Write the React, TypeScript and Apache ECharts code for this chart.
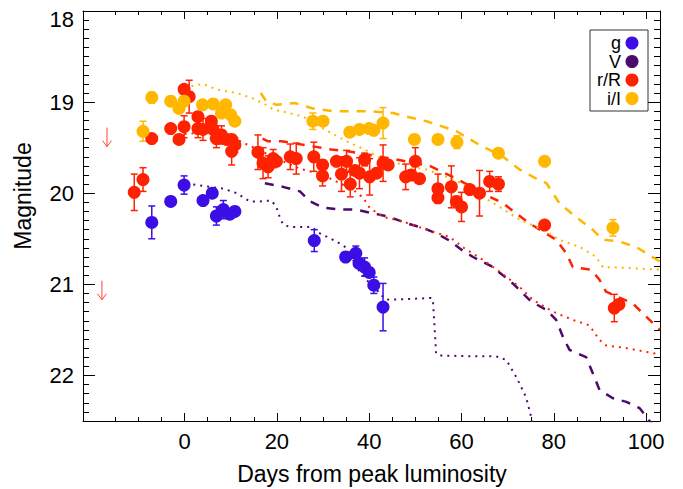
import React, { useEffect, useRef } from "react";
import * as echarts from "echarts";

// ---------- data ----------
const xMajorTicks = [0, 20, 40, 60, 80, 100];
const xMinorTicks = [-15, -10, -5, 0, 5, 10, 15, 20, 25, 30, 35, 40, 45, 50, 55, 60, 65, 70, 75, 80, 85, 90, 95, 100];

// g band: [day, mag, err]
const gPoints = [
  [-7.1, 20.32, 0.18], [-3.0, 20.09, 0], [-0.1, 19.91, 0.1], [4.0, 20.08, 0], [6.0, 20.0, 0],
  [6.9, 20.25, 0.1], [8.4, 20.18, 0.1], [9.8, 20.23, 0], [10.9, 20.2, 0],
  [28.1, 20.52, 0.12], [34.9, 20.7, 0], [37.1, 20.66, 0.08], [37.8, 20.77, 0], [39.0, 20.81, 0.1],
  [40.0, 20.87, 0], [41.0, 21.01, 0.09], [43.0, 21.25, 0.26],
];

// r/R band
const rPoints = [
  [-10.9, 19.99, 0.2], [-9.0, 19.85, 0.13], [-7.1, 19.4, 0], [-3.0, 19.29, 0], [-1.2, 19.41, 0],
  [-0.1, 18.86, 0], [1.0, 18.94, 0.18], [-0.1, 19.27, 0.12], [2.9, 19.16, 0], [2.9, 19.29, 0.1],
  [4.0, 19.3, 0.12], [5.8, 19.21, 0], [6.2, 19.3, 0.1], [6.9, 19.4, 0.1], [8.0, 19.36, 0.1],
  [9.1, 19.41, 0], [10.2, 19.41, 0], [10.9, 19.47, 0.08], [10.2, 19.54, 0.15],
  [15.9, 19.55, 0.19], [17.0, 19.67, 0.17], [18.1, 19.71, 0.12], [19.2, 19.62, 0.1], [19.9, 19.65, 0],
  [22.9, 19.6, 0.14], [24.2, 19.62, 0.17], [28.0, 19.6, 0.16], [29.9, 19.69, 0], [29.9, 19.81, 0.11],
  [32.9, 19.65, 0], [34.0, 19.79, 0.19], [35.1, 19.65, 0.12], [35.9, 19.9, 0.14], [36.9, 19.75, 0],
  [37.9, 19.78, 0.17], [39.0, 19.63, 0.07], [40.1, 19.82, 0.2], [41.6, 19.78, 0], [43.0, 19.67, 0.2],
  [44.1, 19.69, 0], [47.9, 19.82, 0.14], [49.1, 19.8, 0], [50.0, 19.65, 0.15], [50.9, 19.84, 0],
  [54.9, 19.95, 0.16], [54.9, 20.05, 0], [57.8, 19.93, 0.23], [58.9, 20.09, 0], [60.0, 20.15, 0.16],
  [61.8, 19.96, 0], [63.9, 20.0, 0.25], [66.1, 19.87, 0.11], [68.0, 19.9, 0.08],
  [78.0, 20.35, 0], [93.1, 21.26, 0.15], [94.1, 21.22, 0],
];

// i/I band
const iPoints = [
  [-9.0, 19.32, 0.11], [-7.1, 18.95, 0.06], [-3.0, 18.99, 0], [-1.2, 19.07, 0], [-0.1, 18.99, 0],
  [3.9, 19.03, 0], [6.2, 19.02, 0], [8.9, 19.03, 0], [8.0, 19.12, 0], [10.0, 19.14, 0], [10.9, 19.21, 0],
  [27.8, 19.21, 0.09], [30.0, 19.21, 0], [35.8, 19.33, 0], [37.9, 19.3, 0], [40.0, 19.29, 0],
  [41.0, 19.31, 0], [43.0, 19.23, 0.17], [49.8, 19.41, 0], [54.9, 19.41, 0], [59.0, 19.44, 0.07],
  [68.0, 19.56, 0], [78.0, 19.65, 0], [92.8, 20.38, 0.09],
];

// upper limits (r/R)
const limitDays = [-16.8, -17.9];
const limitMags = [19.28, 20.96];

// model curves
const iDotDays = [0, 1.1, 4.0, 6.9, 11.3, 14.8, 17.7, 19.2, 21, 25.7, 31.1, 35.1, 39.4, 43.0, 48.1, 52.4, 56.7, 60.0, 65.0, 68.2, 72.6, 77.6, 81.2, 85.6, 89.2, 90.6, 95.7, 103];
const iDotMags = [18.82, 18.83, 18.8, 18.86, 18.9, 18.96, 19.03, 19.08, 19.1, 19.16, 19.32, 19.43, 19.53, 19.63, 19.7, 19.74, 19.82, 19.89, 20.05, 20.15, 20.29, 20.4, 20.51, 20.59, 20.7, 20.81, 20.82, 20.84];

const iDashDays = [16.5, 17.7, 19.9, 23.9, 27.8, 32.2, 36.5, 40.1, 45.2, 48.1, 52.4, 56.0, 58.9, 63.9, 69.0, 72.6, 76.2, 78.4, 81.2, 84.8, 88.4, 90.6, 94.2, 97.8, 103];
const iDashMags = [18.9, 18.99, 19.03, 19.01, 19.07, 19.1, 19.1, 19.1, 19.12, 19.16, 19.21, 19.27, 19.32, 19.47, 19.6, 19.74, 19.84, 19.89, 20.11, 20.26, 20.4, 20.51, 20.53, 20.59, 20.75];

const rDashDays = [16.9, 18.1, 21.0, 31.8, 35.4, 45.9, 53.1, 58.9, 65.3, 69.0, 71.8, 74.7, 80.5, 82.7, 84.1, 88.1, 89.9, 91.3, 97.1, 98.9, 103];
const rDashMags = [19.4, 19.43, 19.43, 19.52, 19.54, 19.63, 19.7, 19.84, 20.02, 20.11, 20.22, 20.33, 20.51, 20.66, 20.81, 20.84, 20.95, 21.08, 21.21, 21.3, 21.5];

const rDotDays = [0, 5, 10, 15, 20, 25, 30, 36.5, 38.7, 40.1, 43.0, 47.3, 52.4, 57.4, 60.5, 64.6, 68.2, 72.6, 75.5, 79.8, 84.1, 87.7, 89.9, 91.3, 95.7, 103];
const rDotMags = [19.35, 19.33, 19.38, 19.5, 19.62, 19.73, 19.8, 19.96, 20.05, 20.16, 20.26, 20.31, 20.4, 20.48, 20.6, 20.73, 20.86, 21.03, 21.17, 21.3, 21.39, 21.45, 21.61, 21.67, 21.7, 21.77];

const vDashDays = [17.4, 21.3, 25.0, 27.2, 30.1, 33.7, 37.2, 40.8, 44.4, 48.1, 51.6, 54.5, 57.4, 60.0, 62.5, 66.8, 71.1, 75.1, 78.4, 80.5, 82.0, 83.4, 87.0, 88.8, 89.9, 92.8, 95.7, 98.6, 101.5];
const vDashMags = [19.89, 19.93, 19.98, 20.09, 20.16, 20.18, 20.18, 20.22, 20.26, 20.33, 20.38, 20.44, 20.52, 20.62, 20.7, 20.81, 20.99, 21.19, 21.28, 21.39, 21.58, 21.72, 21.8, 22.02, 22.16, 22.25, 22.29, 22.36, 22.55];

const vDotDays = [0.4, 2.6, 5.5, 8.4, 11.3, 14.1, 16.3, 18.8, 19.9, 20.3, 21.3, 22.8, 27.5, 29.3, 32.9, 35.1, 37.2, 39.4, 41.6, 43.4, 44.4, 53.4, 53.8, 54.2, 54.5, 55.3, 61.8, 67.5, 69.7, 71.9, 74.0, 75.1, 75.5];
const vDotMags = [19.89, 19.91, 19.93, 19.95, 20.0, 20.09, 20.09, 20.08, 20.15, 20.22, 20.34, 20.37, 20.37, 20.44, 20.53, 20.6, 20.81, 20.95, 21.06, 21.16, 21.17, 21.15, 21.17, 21.5, 21.76, 21.78, 21.79, 21.79, 21.83, 22.02, 22.24, 22.46, 22.55];

const legendLabels = ["g", "V", "r/R", "i/I"];

// ---------- styles ----------
const C_G = "#3a0ee5";
const C_V = "#4b0a6c";
const C_R = "#ff2200";
const C_I = "#ffb700";
const FONT = "Liberation Sans";

const zip = (a: number[], b: number[]) => a.map((v, i) => [v, b[i]]);

export default function App() {
  const ref = useRef<HTMLDivElement>(null);
  useEffect(() => {
    if (!ref.current) return;
    const chart = echarts.init(ref.current, undefined, { renderer: "svg" });

    const X_MIN = -22, X_MAX = 103, Y_MIN = 18, Y_MAX = 22.5;

    const xAx = (pos: "bottom" | "top", major: boolean, labels: boolean, line: boolean) => ({
      type: "value",
      position: pos,
      min: X_MIN,
      max: X_MAX,
      axisLine: { show: line, onZero: false, lineStyle: { color: "#000", width: 1 } },
      axisTick: {
        show: true,
        inside: true,
        length: major ? 8 : 4,
        customValues: major ? xMajorTicks : xMinorTicks,
        lineStyle: { color: "#000", width: 1 },
      },
      axisLabel: labels
        ? { show: true, customValues: xMajorTicks, fontSize: 22, fontFamily: FONT, color: "#000", margin: 9 }
        : { show: false },
      splitLine: { show: false },
    });

    const yAx = (pos: "left" | "right", major: boolean, labels: boolean, line: boolean) => ({
      type: "value",
      position: pos,
      min: Y_MIN,
      max: Y_MAX,
      inverse: true,
      interval: major ? 1 : 0.1,
      axisLine: { show: line, onZero: false, lineStyle: { color: "#000", width: 1 } },
      axisTick: { show: true, inside: true, length: major ? 12 : 6, lineStyle: { color: "#000", width: 1 } },
      axisLabel: labels
        ? {
            show: true,
            showMaxLabel: false,
            fontSize: 22,
            fontFamily: FONT,
            color: "#000",
            margin: 9,
            formatter: (v: number) => (v === 18 ? "{top|18}" : String(v)),
            rich: { top: { fontSize: 22, fontFamily: FONT, color: "#000", padding: [16, 0, 0, 0] } },
          }
        : { show: false },
      splitLine: { show: false },
    });

    const lineSeries = (name: string, days: number[], mags: number[], color: string, dashed: boolean) => ({
      name,
      type: "line",
      data: zip(days, mags),
      showSymbol: false,
      symbol: "none",
      smooth: false,
      lineStyle: dashed
        ? { color, width: 2.5, type: [9, 8], cap: "butt" }
        : { color, width: 2, type: [2, 5], cap: "butt" },
      z: 1,
      silent: true,
    });

    const errSeries = (pts: number[][], color: string) => ({
      type: "custom",
      data: pts.filter((p) => p[2] > 0),
      encode: { x: 0, y: 1 },
      z: 2,
      silent: true,
      renderItem: (_p: any, api: any) => {
        const x = api.value(0), y = api.value(1), e = api.value(2);
        const a = api.coord([x, y - e]);
        const b = api.coord([x, y + e]);
        const st = { stroke: color, lineWidth: 1.5 };
        return {
          type: "group",
          children: [
            { type: "line", shape: { x1: a[0], y1: a[1], x2: b[0], y2: b[1] }, style: st },
            { type: "line", shape: { x1: a[0] - 3.5, y1: a[1], x2: a[0] + 3.5, y2: a[1] }, style: st },
            { type: "line", shape: { x1: b[0] - 3.5, y1: b[1], x2: b[0] + 3.5, y2: b[1] }, style: st },
          ],
        };
      },
    });

    const scatter = (name: string, pts: number[][], color: string) => ({
      name,
      type: "scatter",
      data: pts.map((p) => [p[0], p[1]]),
      symbol: "circle",
      symbolSize: 13,
      itemStyle: { color, opacity: 1 },
      z: 3,
      silent: true,
    });

    const legendRows = [43, 61.5, 80, 98.5];
    const legendColors = [C_G, C_V, C_R, C_I];

    chart.setOption({
      animation: false,
      backgroundColor: "#fff",
      grid: { left: 83, right: 23, top: 11, bottom: 68, containLabel: false },
      xAxis: [
        xAx("bottom", true, true, true),
        xAx("bottom", false, false, false),
        xAx("top", true, false, true),
        xAx("top", false, false, false),
      ],
      yAxis: [
        yAx("left", true, true, true),
        yAx("left", false, false, false),
        yAx("right", true, false, true),
        yAx("right", false, false, false),
      ],
      series: [
        lineSeries("V dotted", vDotDays, vDotMags, C_V, false),
        lineSeries("V dashed", vDashDays, vDashMags, C_V, true),
        lineSeries("r dotted", rDotDays, rDotMags, C_R, false),
        lineSeries("r dashed", rDashDays, rDashMags, C_R, true),
        lineSeries("i dotted", iDotDays, iDotMags, C_I, false),
        lineSeries("i dashed", iDashDays, iDashMags, C_I, true),
        {
          type: "custom",
          data: zip(limitDays, limitMags),
          encode: { x: 0, y: 1 },
          z: 2,
          silent: true,
          renderItem: (_p: any, api: any) => {
            const c = api.coord([api.value(0), api.value(1)]);
            const st = { stroke: "#ff4433", lineWidth: 1 };
            const tip = c[1] + 19;
            return {
              type: "group",
              children: [
                { type: "line", shape: { x1: c[0], y1: c[1], x2: c[0], y2: tip }, style: st },
                { type: "line", shape: { x1: c[0] - 4.5, y1: tip - 6, x2: c[0], y2: tip }, style: st },
                { type: "line", shape: { x1: c[0] + 4.5, y1: tip - 6, x2: c[0], y2: tip }, style: st },
              ],
            };
          },
        },
        errSeries(gPoints, C_G),
        errSeries(rPoints, C_R),
        errSeries(iPoints, C_I),
        scatter("g", gPoints, C_G),
        scatter("r/R", rPoints, C_R),
        scatter("i/I", iPoints, C_I),
      ],
      graphic: [
        {
          type: "text",
          x: 23,
          y: 196,
          rotation: Math.PI / 2,
          style: {
            text: "Magnitude",
            fontSize: 23,
            fontFamily: FONT,
            fill: "#000",
            align: "center",
            verticalAlign: "middle",
          },
        },
        {
          type: "text",
          x: 372,
          y: 474,
          style: {
            text: "Days from peak luminosity",
            fontSize: 23,
            fontFamily: FONT,
            fill: "#000",
            align: "center",
            verticalAlign: "middle",
          },
        },
        {
          type: "rect",
          shape: { x: 590, y: 30, width: 58, height: 81 },
          style: { fill: "#fff", stroke: "#333", lineWidth: 1 },
          z: 10,
        },
        {
          type: "text",
          x: 621,
          y: (legendRows[0] + legendRows[3]) / 2,
          z: 11,
          style: {
            text: legendLabels.join("\n"),
            fontSize: 18,
            lineHeight: 18.5,
            fontFamily: FONT,
            fill: "#000",
            align: "right",
            verticalAlign: "middle",
          },
        },
        ...legendColors.map((c, i) => ({
          type: "circle",
          shape: { cx: 632, cy: legendRows[i], r: 6.5 },
          style: { fill: c },
          z: 11,
        })),
      ],
    });
    return () => chart.dispose();
  }, []);
  return <div ref={ref} style={{ position: "fixed", left: 0, top: 0, width: 683, height: 489 }} />;
}
